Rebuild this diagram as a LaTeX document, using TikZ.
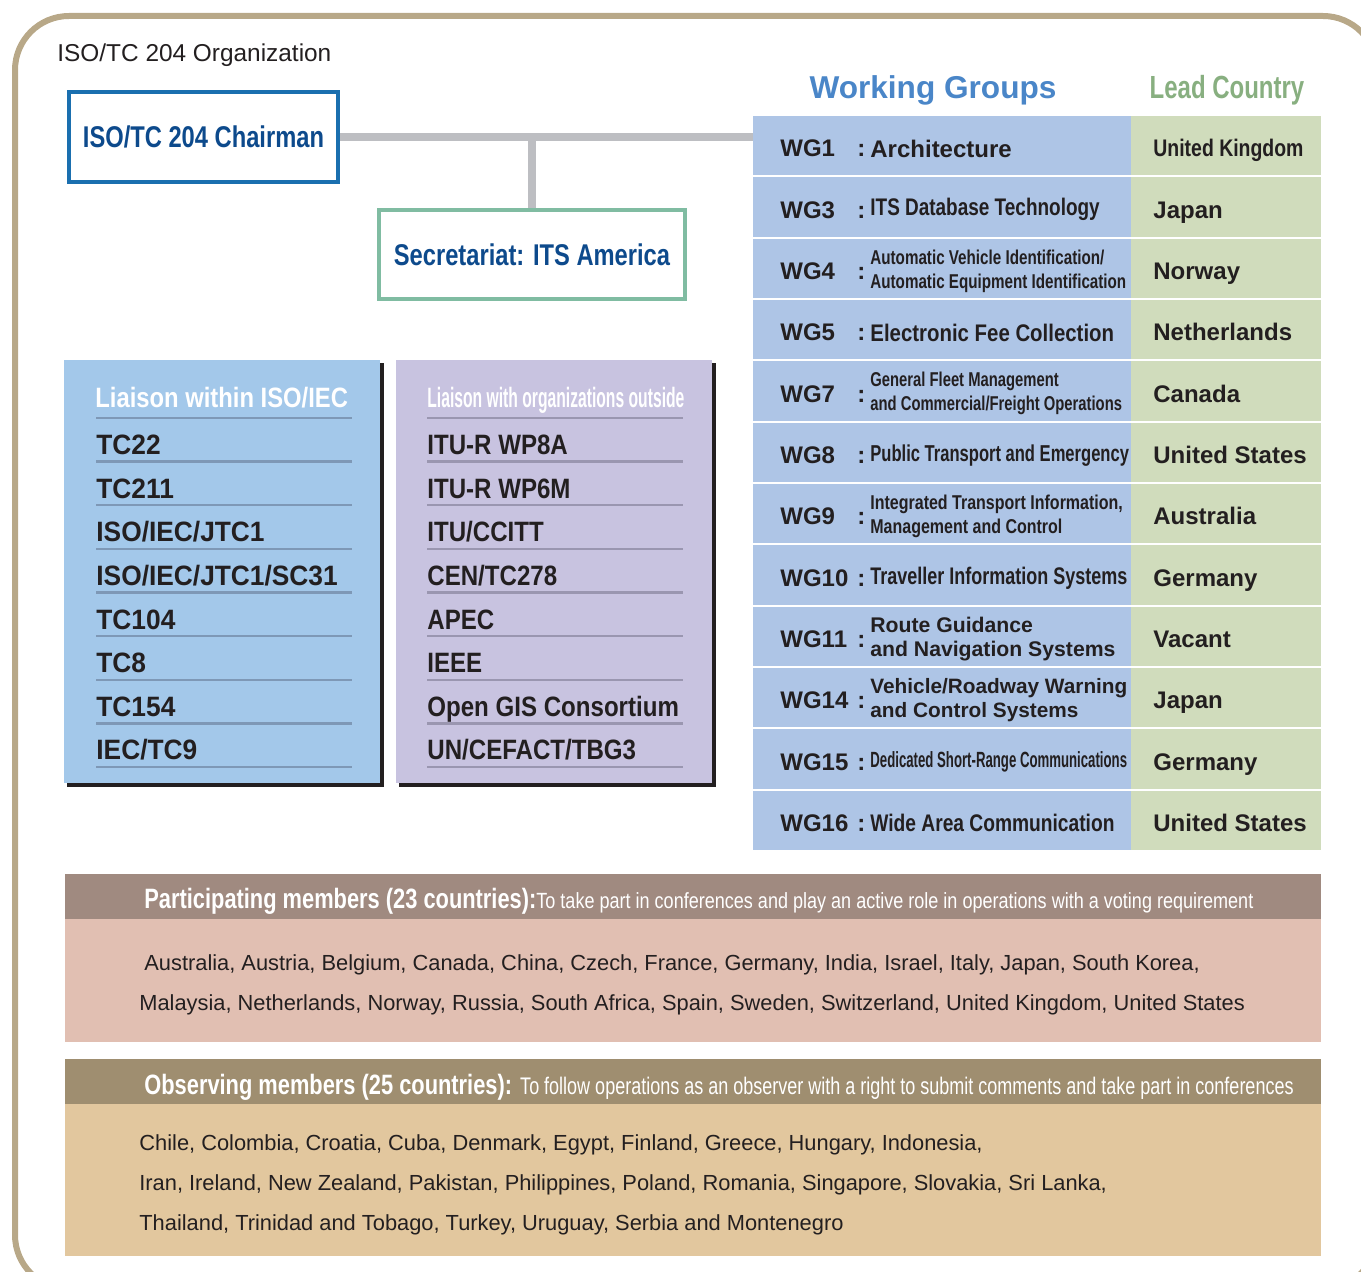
\documentclass[tikz,border=0pt]{standalone}
\usepackage{fontspec}
\setmainfont{Liberation Sans}
\newcommand\narrowed[1]{\fontspec[FakeStretch=#1]{Liberation Sans}}
\newcommand\wgfont[2]{\fontsize{#1}{12}\selectfont\narrowed{#2}\bfseries}

\definecolor{framecol}{HTML}{B8A888}
\definecolor{chairblue}{HTML}{1A6FAF}
\definecolor{darkblue}{HTML}{0D4A8C}
\definecolor{secgreen}{HTML}{80BCA2}
\definecolor{conngray}{HTML}{BDBEC2}
\definecolor{wgtitle}{HTML}{4A86C8}
\definecolor{lctitle}{HTML}{88AF80}
\definecolor{wgblue}{HTML}{AEC5E6}
\definecolor{wggreen}{HTML}{D0DCBC}
\definecolor{liaisonA}{HTML}{A3C8EA}
\definecolor{liaisonB}{HTML}{C8C3E0}
\definecolor{ruleA}{HTML}{7E98B6}
\definecolor{ruleB}{HTML}{9A96B0}
\definecolor{pmhead}{HTML}{A08A80}
\definecolor{pmbody}{HTML}{E1BFB2}
\definecolor{omhead}{HTML}{9F8E70}
\definecolor{ombody}{HTML}{E2C79E}
\definecolor{ink}{HTML}{231F20}

\begin{document}
\begin{tikzpicture}[
x=0.5pt,y=-0.5pt,
txt/.style={inner sep=0pt,text=ink},
titlebox/.style={
  draw,
  line width=2pt,
  fill=white,
  text=darkblue,
  font=\fontsize{15}{18}\selectfont\narrowed{0.79}\bfseries
  },
conn/.style={conngray,line width=4pt},
wglab/.style={txt,anchor=base west,font=\fontsize{12}{14}\selectfont\bfseries},
wgdesc/.style={txt,anchor=west,align=left},
liaisonhead/.style={inner sep=0pt,anchor=base west,text=white},
item/.style={txt,anchor=base west,font=\fontsize{14}{16}\selectfont\narrowed{#1}\bfseries},
bandhead/.style={inner sep=0pt,anchor=base west,text=white},
bandtext/.style={txt,anchor=base west,font=\fontsize{10.92}{13}\selectfont}
]
\useasboundingbox (0,0) rectangle (1361,1272);
\clip (0,0) rectangle (1361,1272);

% frame
\draw[framecol,line width=3pt,rounded corners=27pt] (15,16) rectangle (1377,1289);
\node[txt,anchor=base west,font=\fontsize{12.2}{14}\selectfont] (orgtitle) at (57,62) {ISO/TC 204 Organization};

% chairman and secretariat
\node[titlebox,draw=chairblue,minimum width=134.5pt,minimum height=45pt] (chair) at (203.5,137) {ISO/TC 204 Chairman};
\node[titlebox,draw=secgreen,minimum width=153pt,minimum height=44.5pt] (secr) at (532,254.5) {Secretariat: ITS America};
\coordinate (wgleft) at (753,137);
\draw[conn] (chair.east) -- (wgleft);
\draw[conn] (secr.north) -- (secr.north |- chair.east);

% working groups
\node[inner sep=0pt,anchor=base,text=wgtitle,font=\fontsize{15.8}{18}\selectfont\bfseries] (wgtitle) at (933,99) {Working Groups};
\node[inner sep=0pt,anchor=base,text=lctitle,font=\fontsize{16}{18}\selectfont\narrowed{0.75}\bfseries] (lctitle) at (1227,99) {Lead Country};
\foreach \lab/\fnt/\desc/\ctry [count=\i from 0] in {
  WG1/{\wgfont{12}{1}}/{Architecture}/{\narrowed{0.81}\bfseries United Kingdom},
  WG3/{\wgfont{12}{0.79}}/{ITS Database Technology}/Japan,
  WG4/{\wgfont{10}{0.76}}/{Automatic Vehicle Identification/\\Automatic Equipment Identification}/Norway,
  WG5/{\wgfont{12}{0.85}}/{Electronic Fee Collection}/Netherlands,
  WG7/{\wgfont{10}{0.74}}/{General Fleet Management\\and Commercial/Freight Operations}/Canada,
  WG8/{\wgfont{11.5}{0.72}}/{Public Transport and Emergency}/{United States},
  WG9/{\wgfont{10}{0.8}}/{Integrated Transport Information,\\Management and Control}/Australia,
  WG10/{\wgfont{12}{0.75}}/{Traveller Information Systems}/Germany,
  WG11/{\wgfont{10.6}{1}}/{Route Guidance\\and Navigation Systems}/Vacant,
  WG14/{\wgfont{10.4}{1}}/{Vehicle/Roadway Warning\\and Control Systems}/Japan,
  WG15/{\wgfont{11}{0.6}}/{Dedicated Short-Range Communications}/Germany,
  WG16/{\wgfont{12}{0.8}}/{Wide Area Communication}/{United States}
  }{
  \pgfmathsetmacro\yt{116+\i*61.33}
  \pgfmathsetmacro\yc{\yt+32.5}
  \fill[wgblue] (753,\yt) rectangle (1131,\yt+59.4);
  \fill[wggreen] (1131,\yt) rectangle (1321,\yt+59.4);
  \node[wglab] (wg\i) at (780,\yc+8.5) {\lab};
  \node[wglab] (colon\i) at (857,\yc+8.5) {:};
  \node[wgdesc,font=\fnt] (desc\i) at (870,\yc) {\desc};
  \node[wglab] (lead\i) at (1153,\yc+8.5) {\ctry};
}

% liaison boxes
\fill[ink] (67,363) rectangle (384,787);
\fill[liaisonA] (64,360) rectangle (380,783);
\fill[ink] (399,363) rectangle (716,787);
\fill[liaisonB] (396,360) rectangle (712,783);
\node[liaisonhead,font=\fontsize{14}{16}\selectfont\narrowed{0.85}\bfseries] (liaisonA) at (95,408) {Liaison within ISO/IEC};
\node[liaisonhead,font=\fontsize{14}{16}\selectfont\narrowed{0.56}\bfseries] (liaisonB) at (427,408) {Liaison with organizations outside};
\foreach \k in {0,...,8} {
  \draw[ruleA,line width=1.2pt] (96,418+\k*43.625) -- (352,418+\k*43.625);
  \draw[ruleB,line width=1.2pt] (427,418+\k*43.625) -- (683,418+\k*43.625);
}
\foreach \name [count=\k] in {TC22,TC211,ISO/IEC/JTC1,ISO/IEC/JTC1/SC31,TC104,TC8,TC154,IEC/TC9}
  \node[item=0.94] (inA\k) at (96,411+\k*43.625) {\name};
\foreach \name [count=\k] in {ITU-R WP8A,ITU-R WP6M,ITU/CCITT,CEN/TC278,APEC,IEEE,Open GIS Consortium,UN/CEFACT/TBG3}
  \node[item=0.86] (outB\k) at (427,411+\k*43.625) {\name};

% members
\fill[pmhead] (65,874) rectangle (1321,919);
\fill[pmbody] (65,919) rectangle (1321,1042);
\fill[omhead] (65,1059) rectangle (1321,1104);
\fill[ombody] (65,1104) rectangle (1321,1256);
\node[bandhead] (pmtitle) at (144,908) {\fontsize{14}{16}\selectfont\narrowed{0.78}\bfseries Participating members (23 countries):\fontsize{11}{13}\selectfont\narrowed{0.82}\mdseries To take part in conferences and play an active role in operations with a voting requirement};
\node[bandtext] (pm1) at (144,970) {Australia, Austria, Belgium, Canada, China, Czech, France, Germany, India, Israel, Italy, Japan, South Korea,};
\node[bandtext] (pm2) at (139,1010) {Malaysia, Netherlands, Norway, Russia, South Africa, Spain, Sweden, Switzerland, United Kingdom, United States};
\node[bandhead] (omtitle) at (144,1094) {\fontsize{14}{16}\selectfont\narrowed{0.78}\bfseries Observing members (25 countries): \fontsize{12}{14}\selectfont\narrowed{0.75}\mdseries To follow operations as an observer with a right to submit comments and take part in conferences};
\node[bandtext] (om1) at (139,1150) {Chile, Colombia, Croatia, Cuba, Denmark, Egypt, Finland, Greece, Hungary, Indonesia,};
\node[bandtext] (om2) at (139,1190) {Iran, Ireland, New Zealand, Pakistan, Philippines, Poland, Romania, Singapore, Slovakia, Sri Lanka,};
\node[bandtext] (om3) at (139,1230) {Thailand, Trinidad and Tobago, Turkey, Uruguay, Serbia and Montenegro};
\end{tikzpicture}
\end{document}
